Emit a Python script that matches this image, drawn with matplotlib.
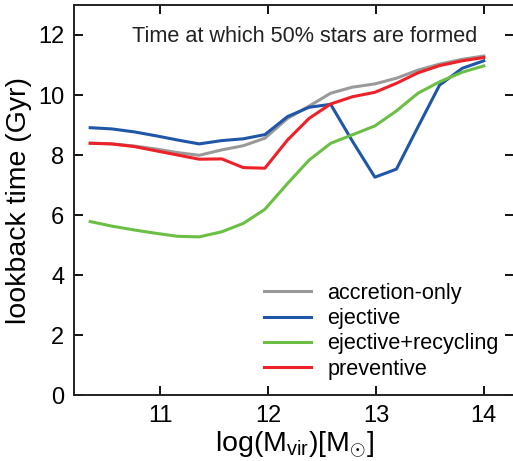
import matplotlib
matplotlib.use("Agg")
import matplotlib.pyplot as plt

plt.rcParams['font.family'] = ['Liberation Sans', 'DejaVu Sans']
plt.rcParams['mathtext.fontset'] = 'custom'
plt.rcParams['mathtext.rm'] = 'Liberation Sans'

log_mvir = [10.35, 10.55, 10.76, 10.96, 11.16, 11.36, 11.57, 11.77, 11.97, 12.18,
            12.38, 12.58, 12.78, 12.99, 13.19, 13.39, 13.59, 13.80, 14.00]

accretion_only = [8.40, 8.37, 8.30, 8.20, 8.08, 7.99, 8.17, 8.31, 8.56, 9.22,
                  9.63, 10.06, 10.26, 10.37, 10.56, 10.83, 11.03, 11.19, 11.30]
ejective = [8.91, 8.87, 8.77, 8.64, 8.50, 8.37, 8.48, 8.54, 8.68, 9.28,
            9.59, 9.69, 8.47, 7.26, 7.53, 8.94, 10.33, 10.89, 11.14]
ejective_recycling = [5.78, 5.63, 5.50, 5.39, 5.29, 5.27, 5.44, 5.72, 6.19, 7.05,
                      7.83, 8.39, 8.67, 8.97, 9.47, 10.06, 10.44, 10.76, 10.97]
preventive = [8.39, 8.37, 8.28, 8.14, 8.00, 7.86, 7.87, 7.58, 7.56, 8.50,
              9.22, 9.70, 9.94, 10.09, 10.39, 10.74, 10.98, 11.14, 11.25]

labels = ['accretion-only', 'ejective', 'ejective+recycling', 'preventive']
colors = ['#9a9a9a', '#1f56a8', '#6cbf45', '#ee2028']
series = [accretion_only, ejective, ejective_recycling, preventive]

fig = plt.figure(figsize=(5.13, 4.61), dpi=100)
ax = fig.add_axes([74/513, 66/461, 440/513, 390/461])

for y, c, lab in zip(series, colors, labels):
    ax.plot(log_mvir, y, color=c, lw=2.2, label=lab)

ax.set_xlim(10.2, 14.28)
ax.set_ylim(0, 13)
ax.set_xticks([11, 12, 13, 14])
ax.set_yticks([0, 2, 4, 6, 8, 10, 12])
ax.tick_params(direction='in', length=6.5, width=1.3, labelsize=17,
               top=True, right=True, pad=7)
for s in ax.spines.values():
    s.set_linewidth(1.4)
    s.set_color('#222222')

ax.set_xlabel(r'log(M$_{\rm vir}$)[M$_{\odot}$]', fontsize=20.5, labelpad=2)
ax.set_ylabel('lookback time (Gyr)', fontsize=20.5, labelpad=4)

ax.text(0.916, 0.918, 'Time at which 50% stars are formed', transform=ax.transAxes,
        ha='right', va='center', fontsize=15.6, color='#222222')

leg = ax.legend(loc='lower right', bbox_to_anchor=(1.0, 0.0), frameon=False,
                fontsize=15.6, handlelength=2.17, handletextpad=0.74,
                labelspacing=0.2, borderaxespad=0.3)

fig.savefig('out.png', dpi=100)
